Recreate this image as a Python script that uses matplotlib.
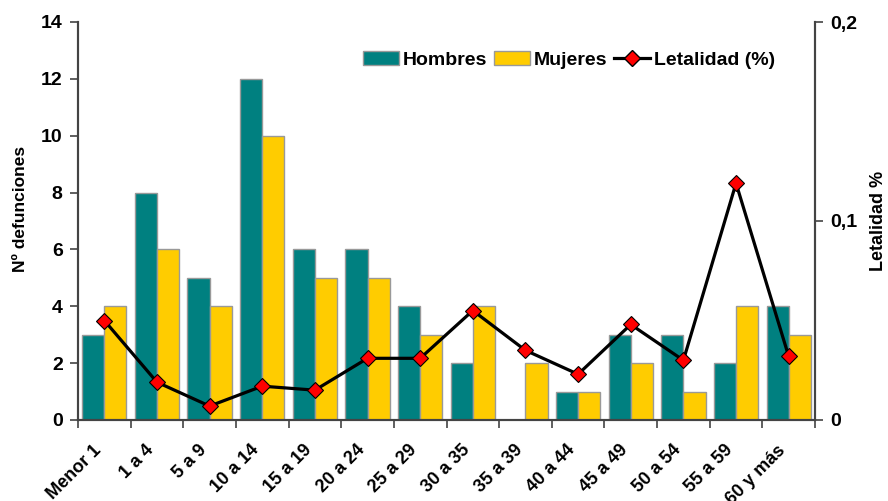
import matplotlib
matplotlib.use('Agg')
import matplotlib.pyplot as plt
import matplotlib.transforms as mtransforms
from matplotlib.patches import Patch
from matplotlib.lines import Line2D
import numpy as np

plt.rcParams['font.family'] = ['Liberation Sans', 'DejaVu Sans']
plt.rcParams['font.weight'] = 'bold'

# datos
grupos = ['Menor 1', '1 a 4', '5 a 9', '10 a 14', '15 a 19', '20 a 24', '25 a 29',
          '30 a 35', '35 a 39', '40 a 44', '45 a 49', '50 a 54', '55 a 59', '60 y más']
hombres = [3, 8, 5, 12, 6, 6, 4, 2, 0, 1, 3, 3, 2, 4]
mujeres = [4, 6, 4, 10, 5, 5, 3, 4, 2, 1, 2, 1, 4, 3]
letalidad = [0.050, 0.019, 0.007, 0.017, 0.015, 0.031, 0.031,
             0.055, 0.035, 0.023, 0.048, 0.030, 0.119, 0.032]

C_HOM = '#008080'
C_MUJ = '#FFCC00'
C_EDGE = '#999999'
C_AXIS = '#444444'

fig = plt.figure(figsize=(8.88, 5.01), dpi=100)
ax = fig.add_axes([78 / 888, 1 - 420 / 501, (815 - 78) / 888, (420 - 22) / 501])

x = np.arange(len(grupos))
w = 0.42
ax.bar(x - w / 2, hombres, w, color=C_HOM, edgecolor=C_EDGE, linewidth=1)
ax.bar(x + w / 2, mujeres, w, color=C_MUJ, edgecolor=C_EDGE, linewidth=1)

ax.set_xlim(-0.5, len(grupos) - 0.5)
ax.set_ylim(0, 14)
ax.set_yticks(range(0, 15, 2))
ax.tick_params(axis='y', labelsize=14, direction='out', length=6, width=1.2,
               colors=C_AXIS, labelcolor='black', pad=5)

# etiquetas al centro del grupo, marcas en los limites
ax.set_xticks(x)
ax.set_xticklabels(grupos, rotation=45, ha='right', va='center', rotation_mode='anchor',
                   fontsize=13, fontweight='bold')
ax.tick_params(axis='x', which='major', length=0, pad=20)
shift = mtransforms.ScaledTranslation(-4 / 72, 0, fig.dpi_scale_trans)
for t in ax.get_xticklabels():
    t.set_transform(t.get_transform() + shift)
ax.set_xticks(np.arange(-0.5, len(grupos), 1), minor=True)
ax.tick_params(axis='x', which='minor', length=6, width=1.2, direction='out', colors=C_AXIS)

ax.spines['top'].set_visible(False)
for s in ['left', 'right', 'bottom']:
    ax.spines[s].set_color(C_AXIS)
    ax.spines[s].set_linewidth(1.5)

ax.set_ylabel('Nº defunciones', fontsize=12.5, fontweight='bold')
ax.yaxis.set_label_coords((28 - 78) / 737, 0.53)

ax2 = ax.twinx()
ax2.plot(x, letalidad, color='black', lw=2.3, marker='D', markersize=8.5,
         markerfacecolor='#FF0000', markeredgecolor='black', markeredgewidth=0.8, zorder=5)
ax2.set_ylim(0, 0.2)
ax2.set_yticks([0, 0.1, 0.2])
ax2.set_yticklabels(['0', '0,1', '0,2'], fontsize=14, fontweight='bold')
ax2.tick_params(axis='y', direction='out', length=6, width=1.2,
                colors=C_AXIS, labelcolor='black', pad=5)
ax2.spines['top'].set_visible(False)
for s in ['left', 'right', 'bottom']:
    ax2.spines[s].set_color(C_AXIS)
    ax2.spines[s].set_linewidth(1.5)
ax2.set_ylabel('Letalidad %', fontsize=13, fontweight='bold', rotation=90)
ax2.yaxis.set_label_coords((870 - 78) / 737, 0.5)

handles = [
    Patch(facecolor=C_HOM, edgecolor=C_EDGE, label='Hombres'),
    Patch(facecolor=C_MUJ, edgecolor=C_EDGE, label='Mujeres'),
    Line2D([0], [0], color='black', lw=2.3, marker='D', markersize=8.5,
           markerfacecolor='#FF0000', markeredgecolor='black', label='Letalidad (%)'),
]
ax2.legend(handles=handles, loc='center left',
           bbox_to_anchor=((363 - 78) / 737, (420 - 60) / 398), ncol=3,
           frameon=False, fontsize=14, handlelength=1.85, handleheight=0.75,
           columnspacing=0.35, handletextpad=0.2, borderaxespad=0, borderpad=0)

fig.savefig('out.png', dpi=100)
